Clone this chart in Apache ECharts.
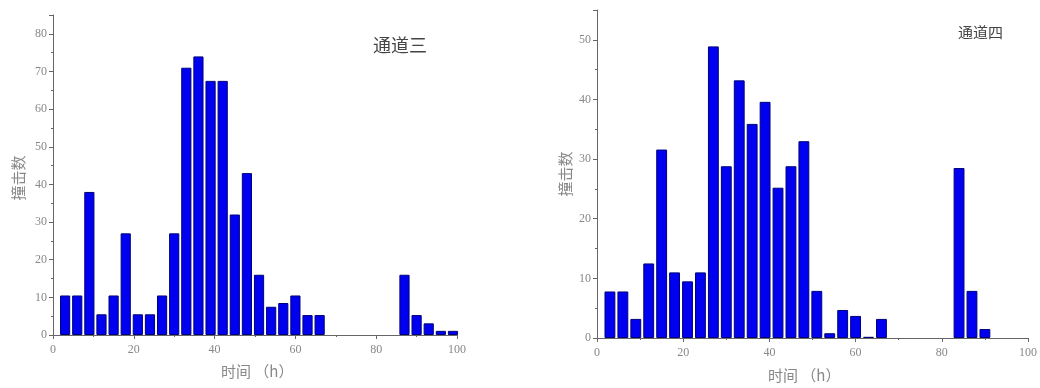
<!DOCTYPE html>
<html><head><meta charset="utf-8">
<script src="https://cdn.jsdelivr.net/npm/echarts@6/dist/echarts.min.js"></script>
<style>html,body{margin:0;padding:0;background:#fff}#c{width:1040px;height:388px}</style>
</head><body><div id="c"></div>
<script>
// bin centres (hours)
const binCenters = [3,6,9,12,15,18,21,24,27,30,33,36,39,42,45,48,51,54,57,60,63,66,69,72,75,78,81,84,87,90,93,96,99];
// 通道三 counts
const ch3Counts = [10.5,10.5,38,5.5,10.5,27,5.5,5.5,10.5,27,71,74,67.5,67.5,32,43,16,7.5,8.5,10.5,5.3,5.3,0,0,0,0,0,0,16,5.3,3.1,1.1,1.1];
// 通道四 counts
const ch4Counts = [7.8,7.8,3.2,12.5,31.6,11,9.5,11,48.9,28.8,43.2,35.9,39.6,25.2,28.8,33,7.9,0.8,4.7,3.7,0.2,3.2,0,0,0,0,0,28.5,7.9,1.5,0,0,0];
const xTicks = [0,20,40,60,80,100];
const titles = ['通道三','通道四'];
const xName = '时间 （h）';
const yName = '撞击数';

const numFont = '"Liberation Serif","DejaVu Serif",serif';
const cjkFont = '"Noto Sans CJK SC",serif';
const axisCol = '#666';
const txtCol = '#888';

function xAxis(gi){
  return {gridIndex:gi,type:'value',min:xTicks[0],max:xTicks[xTicks.length-1],interval:xTicks[1]-xTicks[0],
    axisLine:{show:true,lineStyle:{color:axisCol,width:1}},
    axisTick:{show:true,length:4,lineStyle:{color:axisCol}},
    minorTick:{show:true,splitNumber:2,length:2,lineStyle:{color:axisCol}},
    splitLine:{show:false},
    axisLabel:{color:txtCol,fontFamily:numFont,fontSize:12,margin:9}};
}
function yAxis(gi,max){
  return {gridIndex:gi,type:'value',min:0,max:max,interval:10,
    axisLine:{show:true,lineStyle:{color:axisCol,width:1}},
    axisTick:{show:true,length:4,lineStyle:{color:axisCol}},
    minorTick:{show:true,splitNumber:2,length:2,lineStyle:{color:axisCol}},
    splitLine:{show:false},
    axisLabel:{color:txtCol,fontFamily:numFont,fontSize:12,margin:6,
      formatter:v=> (v%10===0 && v<=max-5) ? String(v) : ''}};
}
function bars(gi,vals){
  return {type:'bar',xAxisIndex:gi,yAxisIndex:gi,
    data:binCenters.map((c,i)=>[c,vals[i]]).filter(d=>d[1]>0),
    barWidth:'84%',
    itemStyle:{color:'#0000f0',borderColor:'#00007a',borderWidth:1},
    silent:true,animation:false};
}
const chart = echarts.init(document.getElementById('c'),null,{renderer:'canvas'});
chart.setOption({
  animation:false,
  grid:[{left:53,right:583,top:15,bottom:53},{left:597,right:9,top:10,bottom:50}],
  xAxis:[xAxis(0),xAxis(1)],
  yAxis:[yAxis(0,85),yAxis(1,55)],
  series:[bars(0,ch3Counts),bars(1,ch4Counts)],
  graphic:[
    {type:'text',left:373,top:36,style:{text:titles[0],font:'18px '+cjkFont,fill:'#444'}},
    {type:'text',left:958,top:25,style:{text:titles[1],font:'15px '+cjkFont,fill:'#444'}},
    {type:'text',left:221,top:364,style:{text:xName,font:'15px '+cjkFont,fill:txtCol}},
    {type:'text',left:768,top:368,style:{text:xName,font:'15px '+cjkFont,fill:txtCol}},
    {type:'text',x:18,y:178,rotation:Math.PI/2,style:{text:yName,font:'15px '+cjkFont,fill:txtCol,align:'center',verticalAlign:'middle'}},
    {type:'text',x:565,y:174,rotation:Math.PI/2,style:{text:yName,font:'15px '+cjkFont,fill:txtCol,align:'center',verticalAlign:'middle'}}
  ]
});
</script></body></html>
